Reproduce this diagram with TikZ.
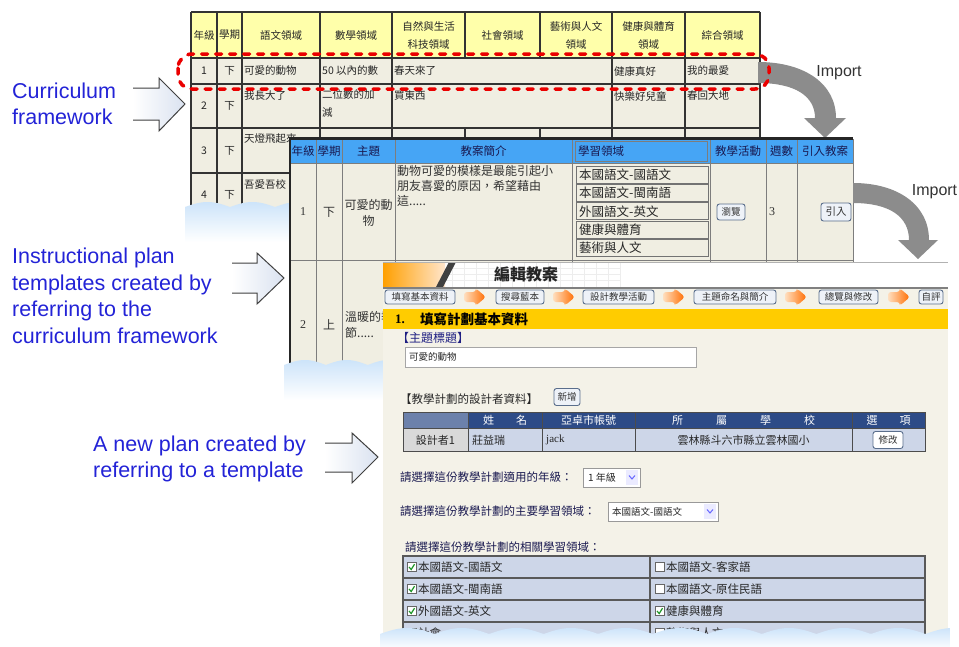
\documentclass[tikz,border=0pt]{standalone}
\usepackage{fontspec}
\setmainfont{Liberation Sans}
\newfontfamily\cjk{Noto Sans CJK TC}
\newfontfamily\lserif{Liberation Serif}
\usetikzlibrary{calc}
\definecolor{hdryellow}{RGB}{255,255,170}
\definecolor{beige}{RGB}{240,238,226}
\definecolor{tblue}{RGB}{70,165,245}
\definecolor{navyhd}{RGB}{45,75,135}
\definecolor{rowblue}{RGB}{205,214,232}
\definecolor{imgray}{RGB}{140,140,140}
\definecolor{lblblue}{RGB}{35,35,215}
\definecolor{arrfill}{RGB}{218,226,240}
\definecolor{planbg}{RGB}{244,242,232}
\definecolor{bandyellow}{RGB}{255,204,0}
\definecolor{dashred}{RGB}{235,0,0}
\definecolor{cloudblue}{RGB}{205,228,250}
\definecolor{gridgray}{RGB}{125,125,125}
\definecolor{titlenavy}{RGB}{30,30,130}
\definecolor{textnavy}{RGB}{25,25,80}
\definecolor{btnedge}{RGB}{90,110,140}
\definecolor{btnfill}{RGB}{238,242,248}
\definecolor{checkgreen}{RGB}{30,150,40}
\begin{document}
\begin{tikzpicture}[x=1pt,y=-1pt,
  lbl/.style={font=\fontsize{21.5}{26.5}\selectfont, text=lblblue, align=left, anchor=west, inner sep=0pt},
  imp/.style={font=\fontsize{16}{18}\selectfont, text=black!80, inner sep=0pt},
  ta/.style={font=\cjk\fontsize{10.5}{18}\selectfont, text=black!85, inner sep=0pt, align=center},
  taw/.style={ta, anchor=west, align=left},
  tb/.style={font=\cjk\fontsize{12}{15}\selectfont, text=black!80, inner sep=0pt, align=center},
  tbh/.style={tb, font=\cjk\fontsize{11.5}{14}\selectfont, text=textnavy},
  tbw/.style={tb, anchor=west, align=left},
  tbn/.style={tb, anchor=north west, align=left},
  pl/.style={font=\cjk\fontsize{11.5}{14}\selectfont, text=textnavy, inner sep=0pt, anchor=west},
  btn/.style={draw=btnedge, fill=btnfill, rounded corners=2.5pt, line width=0.9pt, inner sep=0pt, font=\cjk\fontsize{9.5}{11}\selectfont, text=black!80},
  stepbtn/.style={btn, minimum height=14pt},
  cbt/.style={font=\cjk\fontsize{11.5}{14}\selectfont, text=black!85, inner sep=0pt, anchor=west},
  blockarrow/.style={draw=black!75, line width=1pt, line join=miter},
  cbox/.style={draw=black!60, fill=white, line width=0.6pt},
  chk/.style={draw=checkgreen, line width=1.2pt}
]
\useasboundingbox (0,0) rectangle (959,646);
\fill[white] (0,0) rectangle (959,646);

% ---------- left labels and block arrows ----------
\node[lbl] (lab1) at (12,104) {Curriculum\\framework};
\node[lbl] (lab2) at (12,296) {Instructional plan\\templates created by\\referring to the\\curriculum framework};
\node[lbl] (lab3) at (93,459) {A new plan created by\\referring to a template};

\shade[left color=white, right color=arrfill] (133,88) -- (159,88) -- (159,78) -- (185,104) -- (159,131) -- (159,120) -- (133,120) -- cycle;
\draw[blockarrow] (133,88) -- (159,88) -- (159,78) -- (185,104) -- (159,131) -- (159,120) -- (133,120);
\shade[left color=white, right color=arrfill] (232,263) -- (257,263) -- (257,253) -- (284,278) -- (257,304) -- (257,293) -- (232,293) -- cycle;
\draw[blockarrow] (232,263) -- (257,263) -- (257,253) -- (284,278) -- (257,304) -- (257,293) -- (232,293);
\shade[left color=white, right color=arrfill] (325,443) -- (352,443) -- (352,433) -- (378,457) -- (352,483) -- (352,472) -- (325,472) -- cycle;
\draw[blockarrow] (325,443) -- (352,443) -- (352,433) -- (378,457) -- (352,483) -- (352,472) -- (325,472);

% ---------- table 1: curriculum framework ----------
\fill[hdryellow] (191,12) rectangle (760,58);
\fill[beige] (191,58) rectangle (760,235);
\begin{scope}[line width=1.6pt, draw=black!80]
\foreach \x in {191,217,242,320,392,612,685,760} \draw (\x,12) -- (\x,235);
\foreach \x in {465,540} {\draw (\x,12) -- (\x,58); \draw (\x,128) -- (\x,235);}
\foreach \y in {12,58,84,128,173} \draw (191,\y) -- (760,\y);
\end{scope}
\node[ta] (h1) at (204,35) {年級};
\node[ta] (h2) at (229.5,35) {學期};
\node[ta] (h3) at (281,35) {語文領域};
\node[ta] (h4) at (356,35) {數學領域};
\node[ta] (h5) at (428.5,35) {自然與生活\\科技領域};
\node[ta] (h6) at (502.5,35) {社會領域};
\node[ta] (h7) at (576,35) {藝術與人文\\領域};
\node[ta] (h8) at (648.5,35) {健康與體育\\領域};
\node[ta] (h9) at (722.5,35) {綜合領域};
\node[ta] (r1a) at (204,71) {1};
\node[ta] (r1b) at (229.5,71) {下};
\node[taw] (r1c) at (244,71) {可愛的動物};
\node[taw] (r1d) at (322,71) {50 以內的數};
\node[taw] (r1e) at (394,71) {春天來了};
\node[taw] (r1f) at (614,71) {健康真好};
\node[taw] (r1g) at (687,71) {我的最愛};
\node[ta] (r2a) at (204,106) {2};
\node[ta] (r2b) at (229.5,106) {下};
\node[taw] (r2c) at (244,96) {我長大了};
\node[taw, anchor=north west] (r2d) at (322,89) {二位數的加\\減};
\node[taw] (r2e) at (394,96) {買東西};
\node[taw] (r2f) at (614,96) {快樂好兒童};
\node[taw] (r2g) at (687,96) {春回大地};
\node[ta] (r3a) at (204,151) {3};
\node[ta] (r3b) at (229.5,151) {下};
\node[taw] (r3c) at (244,139) {天燈飛起來};
\node[ta] (r4a) at (204,195) {4};
\node[ta] (r4b) at (229.5,195) {下};
\node[taw] (r4c) at (244,184) {吾愛吾校};
% wave 1
\shade[top color=cloudblue, bottom color=white] (185,242) -- plot[domain=185:300, samples=120] (\x,{207-5*abs(sin((\x-185)*4))}) -- (300,242) -- cycle;

% Import arrow 1 and red dashed frame
\fill[imgray] (758,62) .. controls (805,62) and (836,84) .. (836,118) -- (846,118) -- (825,138) -- (804,118) -- (815,118) .. controls (815,96) and (795,83) .. (758,83) -- cycle;
\node[imp] (imp1) at (839,73) {Import};
\draw[dashred, line width=3.5pt, line cap=round, dash pattern=on 6pt off 8pt, rounded corners=14pt] (178,54) rectangle (769,89);

% ---------- table 2: templates ----------
\fill[tblue] (290,139) rectangle (853,163);
\fill[beige] (290,163) rectangle (853,395);
\begin{scope}[line width=1pt, draw=gridgray]
\foreach \x in {316,342,395,572,710,766,797,853} \draw (\x,139) -- (\x,395);
\draw (290,163) -- (853,163);
\draw (290,260) -- (853,260);
\end{scope}
\draw[gridgray, line width=1pt] (575,141.5) rectangle (707.5,161);
\draw[line width=2.2pt, black!85] (290,395) -- (290,138.5) -- (853,138.5);
\node[tbh] (th1) at (303,151) {年級};
\node[tbh] (th2) at (329,151) {學期};
\node[tbh] (th3) at (368.5,151) {主題};
\node[tbh] (th4) at (483.5,151) {教案簡介};
\node[tbh, anchor=west] (th5) at (578,151) {學習領域};
\node[tbh] (th6) at (738,151) {教學活動};
\node[tbh] (th7) at (781.5,151) {週數};
\node[tbh] (th8) at (825,151) {引入教案};
\node[tb, font=\lserif\fontsize{12}{15}\selectfont] (u1a) at (303,212) {1};
\node[tb] (u1b) at (329,212) {下};
\node[tb, font=\cjk\fontsize{12}{16}\selectfont] (u1c) at (368.5,213) {可愛的動\\物};
\node[tbn] (u1d) at (397,165) {動物可愛的模樣是最能引起小\\朋友喜愛的原因，希望藉由\\這.....};
\foreach \t [count=\i from 0] in {本國語文-國語文,本國語文-閩南語,外國語文-英文,健康與體育,藝術與人文} {
  \draw[black!55, fill=beige, line width=0.9pt] (576,{166+18.4*\i}) rectangle (708,{166+18.4*\i+17});
  \node[tbw, font=\cjk\fontsize{12.5}{15}\selectfont, text=black!85] (ld\i) at (579,{166+18.4*\i+8.5}) {\t};
}
\node[btn, minimum width=28pt, minimum height=16pt] (u1f) at (731,212) {瀏覽};
\node[tbw, font=\lserif\fontsize{12}{15}\selectfont] (u1g) at (769,212) {3};
\node[btn, minimum width=30pt, minimum height=18pt, font=\cjk\fontsize{10.5}{12}\selectfont] (u1h) at (836,212) {引入};
\node[tb, font=\lserif\fontsize{12}{15}\selectfont] (u2a) at (303,325) {2};
\node[tb] (u2b) at (329,325) {上};
\node[tbn, font=\cjk\fontsize{12}{16}\selectfont] (u2c) at (345,311) {溫暖的季\\節.....};
% wave 2
\shade[top color=cloudblue, bottom color=white] (284,400) -- plot[domain=284:392, samples=120] (\x,{365-5*abs(sin((\x-284)*4.3))}) -- (392,400) -- cycle;

% Import arrow 2
\fill[imgray] (853,183) .. controls (898,183) and (929,205) .. (929,240) -- (938,240) -- (918,259) -- (898,240) -- (909,240) .. controls (909,217) and (890,203) .. (853,203) -- cycle;
\node[imp] (imp2) at (934.5,192) {Import};

% ---------- plan editor screenshot ----------
\fill[planbg] (383,262) rectangle (948,646);
\fill[white] (383,262) rectangle (948,287);
\foreach \x in {392,404,...,620} \draw[black!7, line width=0.5pt] (\x,262) -- (\x,287);
\foreach \y in {268,274,280} \draw[black!7, line width=0.5pt] (383,\y) -- (620,\y);
\shade[left color=orange!75!yellow, right color=orange!20] (383,262.5) rectangle (445,286.5);
\fill[black!75] (436,287) -- (449,262) -- (456,262) -- (443,287) -- cycle;
\draw[gray!60, line width=1pt] (383,262) -- (948,262);
\node[anchor=west, inner sep=0pt, font=\cjk\bfseries\fontsize{16}{18}\selectfont, text=black!85] (ptitle) at (494,274) {編輯教案};
\draw[gray, line width=2pt] (383,288) -- (948,288);
\node[stepbtn, minimum width=70pt] (s1) at (420,297) {填寫基本資料};
\node[stepbtn, minimum width=48pt] (s2) at (520,297) {搜尋藍本};
\node[stepbtn, minimum width=71pt] (s3) at (618.5,297) {設計教學活動};
\node[stepbtn, minimum width=82pt] (s4) at (735,297) {主題命名與簡介};
\node[stepbtn, minimum width=59pt] (s5) at (848.5,297) {總覽與修改};
\node[stepbtn, minimum width=24pt] (s6) at (931,297) {自評};
\foreach \a in {464,553,663,785,888}
  \shade[left color=orange!25, right color=orange!85!red, rounded corners=3pt] (\a,292) -- (\a+12,292) -- (\a+12,288.5) -- (\a+22,297) -- (\a+12,305.5) -- (\a+12,302) -- (\a,302) -- cycle;
\fill[bandyellow] (383,309) rectangle (948,329);
\node[anchor=west, inner sep=0pt, font=\lserif\bfseries\fontsize{13}{15}\selectfont] (bnum) at (395,319) {1.};
\node[anchor=west, inner sep=0pt, font=\cjk\bfseries\fontsize{13.5}{15}\selectfont] (btxt) at (420,319) {填寫計劃基本資料};
\node[pl, text=titlenavy, font=\cjk\fontsize{12}{14}\selectfont] (ttl) at (397,338) {【主題標題】};
\draw[gray!70, fill=white] (405,347) rectangle (696,367);
\node[pl, font=\cjk\fontsize{9.5}{11}\selectfont, text=black!85] (tin) at (409,357) {可愛的動物};
\node[pl, text=black!85] (dsg) at (400,399) {【教學計劃的設計者資料】};
\node[btn, minimum width=26pt, minimum height=17pt] (bnew) at (567,397) {新增};
% designer table
\fill[navyhd] (403,412) rectangle (925,428);
\fill[navyhd!70!white] (403,412) rectangle (468,428);
\fill[rowblue] (403,428) rectangle (925,451);
\fill[black!15] (403,428) rectangle (468,451);
\begin{scope}[draw=black!70, line width=1pt]
\draw (403,412) rectangle (925,451);
\draw (403,428) -- (925,428);
\foreach \x in {468,542,635,852} \draw (\x,412) -- (\x,451);
\end{scope}
\node[ta, text=white, font=\cjk\fontsize{11}{13}\selectfont] (dh1) at (505,420) {姓　　名};
\node[ta, text=white, font=\cjk\fontsize{11}{13}\selectfont] (dh2) at (588.5,420) {亞卓市帳號};
\node[ta, text=white, font=\cjk\fontsize{11}{13}\selectfont] (dh3) at (743.5,420) {所　　　屬　　　學　　　校};
\node[ta, text=white, font=\cjk\fontsize{11}{13}\selectfont] (dh4) at (888.5,420) {選　　項};
\node[ta, font=\cjk\fontsize{11}{13}\selectfont] (dr1) at (435.5,440) {設計者1};
\node[taw, font=\cjk\fontsize{11}{13}\selectfont] (dr2) at (472,440) {莊益瑞};
\node[taw, font=\lserif\fontsize{11}{13}\selectfont] (dr3) at (546,440) {jack};
\node[ta, font=\cjk\fontsize{11}{13}\selectfont] (dr4) at (743.5,440) {雲林縣斗六市縣立雲林國小};
\node[btn, minimum width=30pt, minimum height=17pt, fill=white] (bmod) at (888,440) {修改};
% selectors
\node[pl] (q1) at (400,477) {請選擇這份教學計劃適用的年級：};
\draw[gray!80, fill=white] (583,468) rectangle (640,487);
\node[pl, font=\cjk\fontsize{10}{12}\selectfont, text=black!85] (q1v) at (588,477.5) {1 年級};
\fill[blue!8] (626,470) rectangle (638,485);
\draw[blue!60, line width=1pt] (629,475.5) -- (632,479) -- (635,475.5);
\node[pl] (q2) at (400,511) {請選擇這份教學計劃的主要學習領域：};
\draw[gray!80, fill=white] (608,502) rectangle (718,521);
\node[pl, font=\cjk\fontsize{9.5}{11}\selectfont, text=black!85] (q2v) at (612,511.5) {本國語文-國語文};
\fill[blue!8] (704,504) rectangle (716,519);
\draw[blue!60, line width=1pt] (707,509.5) -- (710,513) -- (713,509.5);
\node[pl] (q3) at (405,547) {請選擇這份教學計劃的相關學習領域：};
% checkbox table
\fill[rowblue] (403,556) rectangle (925,650);
\begin{scope}[draw=black!65, line width=1.2pt]
\draw (403,650) -- (403,556) -- (925,556) -- (925,650);
\foreach \y in {578,600,622} \draw (403,\y) -- (925,\y);
\draw (650,556) -- (650,650);
\end{scope}
\foreach \yy/\lefttxt/\lck/\righttxt/\rck [count=\i] in {567/本國語文-國語文/1/本國語文-客家語/0, 589/本國語文-閩南語/1/本國語文-原住民語/0, 611/外國語文-英文/1/健康與體育/1, 633/社會/0/藝術與人文/0} {
  \draw[cbox] (407,\yy-4.5) rectangle (416,\yy+4.5);
  \node[cbt] (cl\i) at (418,\yy) {\lefttxt};
  \draw[cbox] (655,\yy-4.5) rectangle (664,\yy+4.5);
  \node[cbt] (cr\i) at (666,\yy) {\righttxt};
  \ifnum\lck=1 \draw[chk] (409,\yy) -- (411.2,\yy+2.5) -- (414.5,\yy-2.8); \fi
  \ifnum\rck=1 \draw[chk] (657,\yy) -- (659.2,\yy+2.5) -- (662.5,\yy-2.8); \fi
}
% wave 3
\shade[top color=cloudblue, bottom color=white] (380,650) -- plot[domain=380:950, samples=300] (\x,{634-6*abs(sin((\x-380)*3.3))}) -- (950,650) -- cycle;
\end{tikzpicture}
\end{document}
